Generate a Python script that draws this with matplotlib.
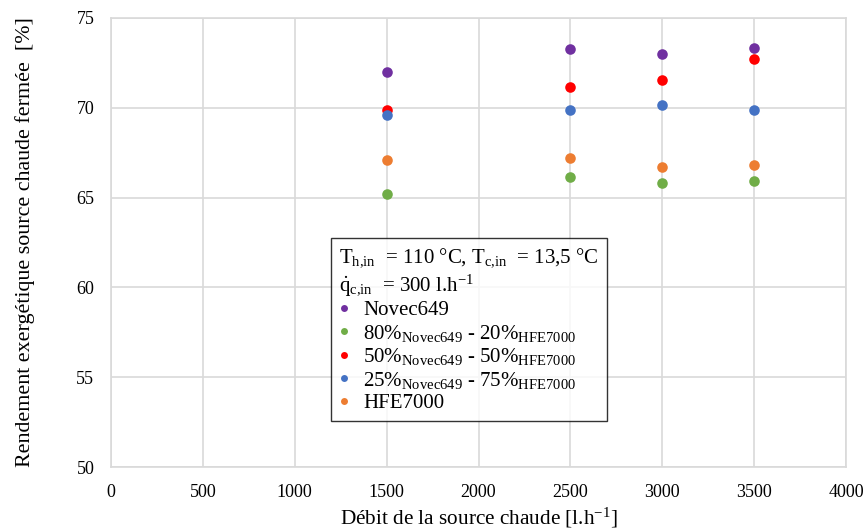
import matplotlib
matplotlib.use("Agg")
import matplotlib.pyplot as plt
from matplotlib.lines import Line2D

plt.rcParams['font.family'] = ['Liberation Serif', 'DejaVu Serif']
plt.rcParams['mathtext.fontset'] = 'custom'
plt.rcParams['mathtext.rm'] = 'Liberation Serif'
plt.rcParams['mathtext.it'] = 'Liberation Serif:italic'

# debit de la source chaude [l/h]
debit = [1500, 2500, 3000, 3500]

# rendement exergetique [%]
novec649 = [72.0, 73.3, 73.0, 73.35]
mix_80_20 = [65.2, 66.15, 65.8, 65.92]
mix_50_50 = [69.85, 71.17, 71.56, 72.7]
mix_25_75 = [69.6, 69.88, 70.17, 69.87]
hfe7000 = [67.1, 67.2, 66.7, 66.8]

series = [
    ("Novec649", novec649, "#7030A0"),
    (r"80%$_{\mathregular{Novec649}}$ - 20%$_{\mathregular{HFE7000}}$", mix_80_20, "#70AD47"),
    (r"50%$_{\mathregular{Novec649}}$ - 50%$_{\mathregular{HFE7000}}$", mix_50_50, "#FF0000"),
    (r"25%$_{\mathregular{Novec649}}$ - 75%$_{\mathregular{HFE7000}}$", mix_25_75, "#4472C4"),
    ("HFE7000", hfe7000, "#ED7D31"),
]

fig = plt.figure(figsize=(8.65, 5.31), dpi=100)
ax = fig.add_axes([111/865, 1 - 467/531, 735/865, 449/531])

handles = []
for label, vals, col in series:
    ax.scatter(debit, vals, s=58, color=col, zorder=3, linewidths=0)
    handles.append(Line2D([], [], ls='none', marker='o', markersize=5,
                          markerfacecolor=col, markeredgecolor='none', label=label))

ax.set_xlim(0, 4000)
ax.set_ylim(50, 75)
ax.set_xticks(range(0, 4001, 500))
ax.set_yticks(range(50, 76, 5))
ax.grid(True, color='#d9d9d9', lw=1.2, zorder=0)
ax.set_axisbelow(True)
for sp in ax.spines.values():
    sp.set_color('#d9d9d9')
    sp.set_linewidth(1.2)
ax.tick_params(length=0, labelsize=13, pad=12)

ax.set_xlabel(r"Débit de la source chaude [l.h$^{\mathregular{-1}}$]", fontsize=15.3, labelpad=4)
ax.set_ylabel("Rendement exergétique source chaude fermée  [%]", fontsize=15.8, labelpad=30)

title = (r"T$_{\mathregular{h{,}in}}$  = 110 °C, T$_{\mathregular{c{,}in}}$  = 13,5 °C" + "\n"
         + r"$\dot{\mathrm{q}}_{\mathregular{c{,}in}}$  = 300 l.h$^{\mathregular{-1}}$")
leg = ax.legend(handles=handles, title=title, loc='lower left',
                bbox_to_anchor=(0.299, 0.102), borderaxespad=0,
                fontsize=15, title_fontsize=15, alignment='left',
                frameon=True, fancybox=False, handlelength=0.5,
                handletextpad=0.65, labelspacing=0.12, borderpad=0.4)
leg.get_frame().set_edgecolor('black')
leg.get_frame().set_linewidth(1.0)

fig.savefig("out.png", dpi=100)
